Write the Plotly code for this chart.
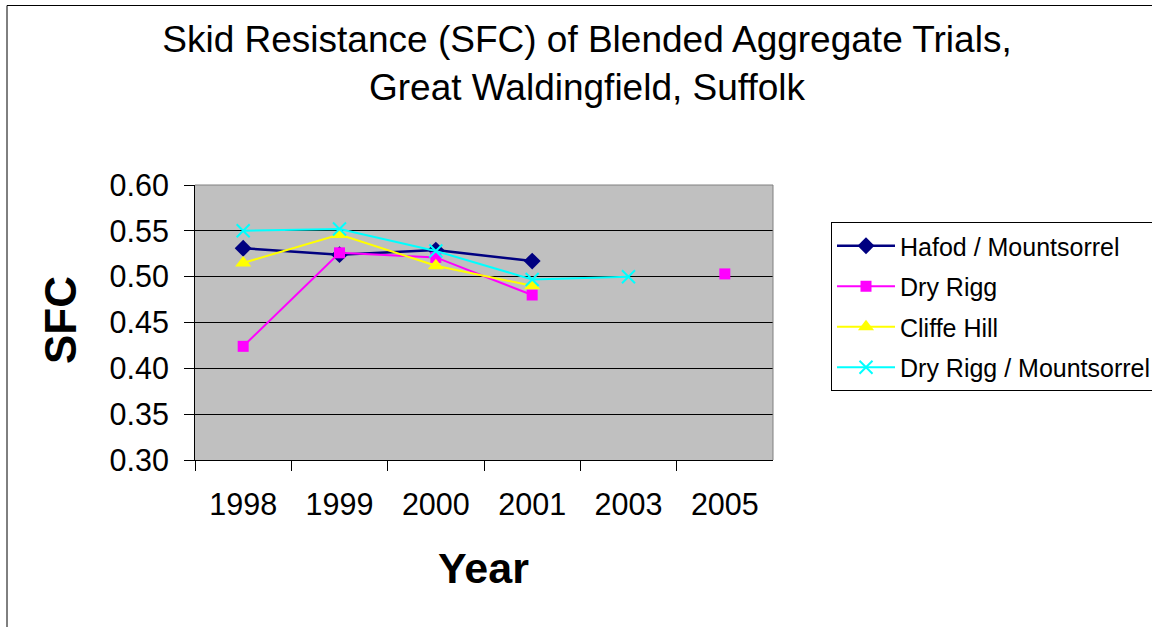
import plotly.graph_objects as go

years = ["1998", "1999", "2000", "2001", "2003", "2005"]
hafod_mountsorrel = [0.531, 0.524, 0.529, 0.517, None, None]
dry_rigg = [0.424, 0.526, 0.521, 0.480, None, 0.503]
cliffe_hill = [0.515, 0.546, 0.512, 0.490, None, None]
dry_rigg_mountsorrel = [0.550, 0.552, 0.528, 0.497, 0.500, None]

series = [
    ("Hafod / Mountsorrel", hafod_mountsorrel, "#000080", "diamond", 13, 2.5),
    ("Dry Rigg", dry_rigg, "#FF00FF", "square", 11, 2),
    ("Cliffe Hill", cliffe_hill, "#FFFF00", "triangle-up", 14, 2),
    ("Dry Rigg / Mountsorrel", dry_rigg_mountsorrel, "#00FFFF", "x-thin", 13, 2),
]

W, H = 1152, 627
FONT = "Liberation Sans, Arial, sans-serif"

# plot area in pixels
PX0, PX1 = 195, 773
PY0, PY1 = 185, 460

fig = go.Figure()
for i, (name, vals, color, sym, size, lw) in enumerate(series):
    marker = dict(symbol=sym, size=size, color=color)
    if sym == "x-thin":
        marker["line"] = dict(color=color, width=2)
    fig.add_trace(go.Scatter(
        x=years, y=vals, name=name, mode="lines+markers",
        line=dict(color=color, width=lw),
        marker=marker, connectgaps=False, legendgroup=f"g{i}",
    ))

fig.update_layout(
    width=W, height=H,
    margin=dict(l=0, r=0, t=0, b=0, autoexpand=False),
    paper_bgcolor="white",
    plot_bgcolor="#C0C0C0",
    font=dict(family=FONT, color="black"),
    title=dict(
        text="Skid Resistance (SFC) of Blended Aggregate Trials,<br>Great Waldingfield, Suffolk",
        x=587 / W, xanchor="center", xref="paper",
        y=1 - 52 / H, yanchor="middle", yref="container",
        font=dict(size=37, family=FONT, color="black"),
    ),
    xaxis=dict(
        domain=[PX0 / W, PX1 / W],
        type="category", categoryorder="array", categoryarray=years,
        range=[-0.5, 5.5],
        showgrid=False, zeroline=False,
        showline=True, linecolor="black", linewidth=1,
        ticks="outside", ticklen=10, tickcolor="black", tickwidth=1,
        tickson="boundaries",
        tickfont=dict(size=30.5, family=FONT, color="black"),
        ticklabelstandoff=17,
    ),
    yaxis=dict(
        domain=[1 - PY1 / H, 1 - PY0 / H],
        range=[0.30, 0.60], dtick=0.05, tick0=0.30, tickformat=".2f",
        showgrid=True, gridcolor="black", gridwidth=1, zeroline=False,
        showline=True, linecolor="black", linewidth=1,
        ticks="outside", ticklen=10, tickcolor="black", tickwidth=1,
        tickfont=dict(size=30.5, family=FONT, color="black"),
        ticklabelstandoff=9,
    ),
    legend=dict(
        x=831 / W, xanchor="left", xref="paper",
        y=1 - 222 / H, yanchor="top", yref="paper",
        bgcolor="white", bordercolor="black", borderwidth=1,
        font=dict(size=25, family=FONT, color="black"),
        itemwidth=58, tracegroupgap=5, traceorder="grouped",
    ),
    shapes=[
        dict(type="line", xref="x domain", yref="y domain", x0=0, x1=1, y0=1, y1=1,
             line=dict(color="#808080", width=1), layer="above"),
        dict(type="line", xref="x domain", yref="y domain", x0=1, x1=1, y0=0, y1=1,
             line=dict(color="#808080", width=1), layer="above"),
        dict(type="rect", xref="paper", yref="paper", x0=7 / W, x1=1.05,
             y0=-0.05, y1=1 - 5.5 / H, line=dict(color="black", width=1)),
    ],
    annotations=[
        dict(text="<b>Year</b>", x=483 / W, y=1 - 568 / H, xref="paper", yref="paper",
             xanchor="center", yanchor="middle", showarrow=False,
             font=dict(size=43, family=FONT, color="black")),
        dict(text="<b>SFC</b>", x=60 / W, y=1 - 320 / H, xref="paper", yref="paper",
             xanchor="center", yanchor="middle", showarrow=False, textangle=-90,
             font=dict(size=44, family=FONT, color="black")),
    ],
    showlegend=True,
)

fig.write_html("out.html", config={"displayModeBar": False},
               post_script="document.body.style.margin='0';")
